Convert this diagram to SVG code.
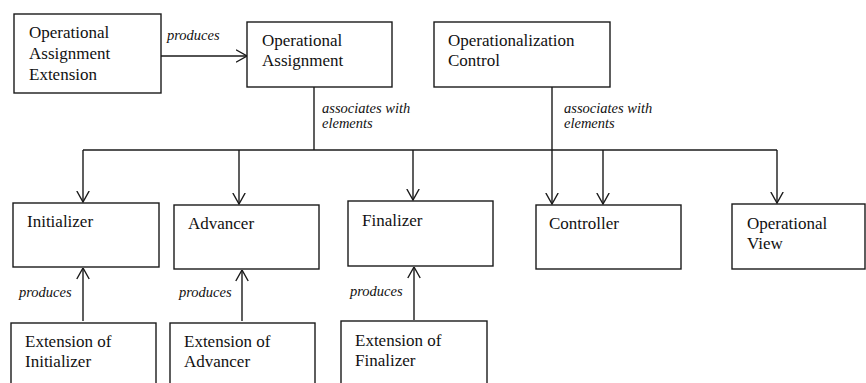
<svg xmlns="http://www.w3.org/2000/svg" width="866" height="383" viewBox="0 0 866 383" font-family="Liberation Serif, Times New Roman, serif">
  <style>
    .box { fill: #fff; stroke: #1a1a1a; stroke-width: 1.4; }
    .lbl { font-size: 17px; fill: #111; }
    .edge { font-size: 14.5px; font-style: italic; fill: #111; }
    .line { fill: none; stroke: #1a1a1a; stroke-width: 1.4; }
  </style>
  <defs>
    <marker id="open" viewBox="0 0 12 14" refX="11.5" refY="7" markerWidth="12" markerHeight="14" markerUnits="userSpaceOnUse" orient="auto">
      <path d="M0.5,0.8 L11.5,7 L0.5,13.2" fill="none" stroke="#1a1a1a" stroke-width="1.4"/>
    </marker>
  </defs>

  <rect width="866" height="383" fill="#fff"/>

  <!-- connectors -->
  <g id="connectors">
    <!-- extension produces assignment -->
    <line class="line" x1="161" y1="56" x2="247" y2="56" marker-end="url(#open)"/>
    <text class="edge" x="167" y="40">produces</text>

    <!-- assignment trunk and bus -->
    <polyline class="line" points="314,87 314,150"/>
    <polyline class="line" points="83,150 777,150"/>
    <text class="edge" x="322" y="113">associates with</text>
    <text class="edge" x="322" y="128">elements</text>
    <line class="line" x1="83" y1="150" x2="83" y2="202" marker-end="url(#open)"/>
    <line class="line" x1="239" y1="150" x2="239" y2="204" marker-end="url(#open)"/>
    <line class="line" x1="413" y1="150" x2="413" y2="200" marker-end="url(#open)"/>
    <line class="line" x1="603" y1="150" x2="603" y2="204" marker-end="url(#open)"/>
    <line class="line" x1="777" y1="150" x2="777" y2="203" marker-end="url(#open)"/>

    <!-- operationalization control to controller -->
    <line class="line" x1="552" y1="87" x2="552" y2="204" marker-end="url(#open)"/>
    <text class="edge" x="564" y="113">associates with</text>
    <text class="edge" x="564" y="128">elements</text>

    <!-- extensions produce their targets -->
    <line class="line" x1="83" y1="321" x2="83" y2="268" marker-end="url(#open)"/>
    <text class="edge" x="19" y="297">produces</text>
    <line class="line" x1="242" y1="321" x2="242" y2="270" marker-end="url(#open)"/>
    <text class="edge" x="179" y="297">produces</text>
    <line class="line" x1="414" y1="320" x2="414" y2="267" marker-end="url(#open)"/>
    <text class="edge" x="350" y="296">produces</text>
  </g>

  <!-- top row -->
  <g id="op-assignment-extension">
    <rect class="box" x="14" y="14" width="147" height="79"/>
    <text class="lbl" x="29" y="38">Operational</text>
    <text class="lbl" x="29" y="59">Assignment</text>
    <text class="lbl" x="29" y="80">Extension</text>
  </g>
  <g id="op-assignment">
    <rect class="box" x="247" y="22" width="145" height="65"/>
    <text class="lbl" x="262" y="46">Operational</text>
    <text class="lbl" x="262" y="66">Assignment</text>
  </g>
  <g id="op-control">
    <rect class="box" x="434" y="22" width="176" height="65"/>
    <text class="lbl" x="448" y="46">Operationalization</text>
    <text class="lbl" x="448" y="66">Control</text>
  </g>

  <!-- middle row -->
  <g id="initializer">
    <rect class="box" x="13" y="203" width="146" height="64"/>
    <text class="lbl" x="27" y="227">Initializer</text>
  </g>
  <g id="advancer">
    <rect class="box" x="174" y="205" width="145" height="64"/>
    <text class="lbl" x="188" y="229">Advancer</text>
  </g>
  <g id="finalizer">
    <rect class="box" x="348" y="201" width="145" height="65"/>
    <text class="lbl" x="362" y="226">Finalizer</text>
  </g>
  <g id="controller">
    <rect class="box" x="536" y="205" width="145" height="64"/>
    <text class="lbl" x="549" y="229">Controller</text>
  </g>
  <g id="op-view">
    <rect class="box" x="732" y="204" width="133" height="65"/>
    <text class="lbl" x="747" y="229">Operational</text>
    <text class="lbl" x="747" y="249">View</text>
  </g>

  <!-- bottom row -->
  <g id="ext-initializer">
    <rect class="box" x="11" y="323" width="145" height="70"/>
    <text class="lbl" x="25" y="347">Extension of</text>
    <text class="lbl" x="25" y="367">Initializer</text>
  </g>
  <g id="ext-advancer">
    <rect class="box" x="170" y="323" width="145" height="70"/>
    <text class="lbl" x="184" y="347">Extension of</text>
    <text class="lbl" x="184" y="367">Advancer</text>
  </g>
  <g id="ext-finalizer">
    <rect class="box" x="341" y="321" width="146" height="70"/>
    <text class="lbl" x="355" y="346">Extension of</text>
    <text class="lbl" x="355" y="366">Finalizer</text>
  </g>
</svg>
